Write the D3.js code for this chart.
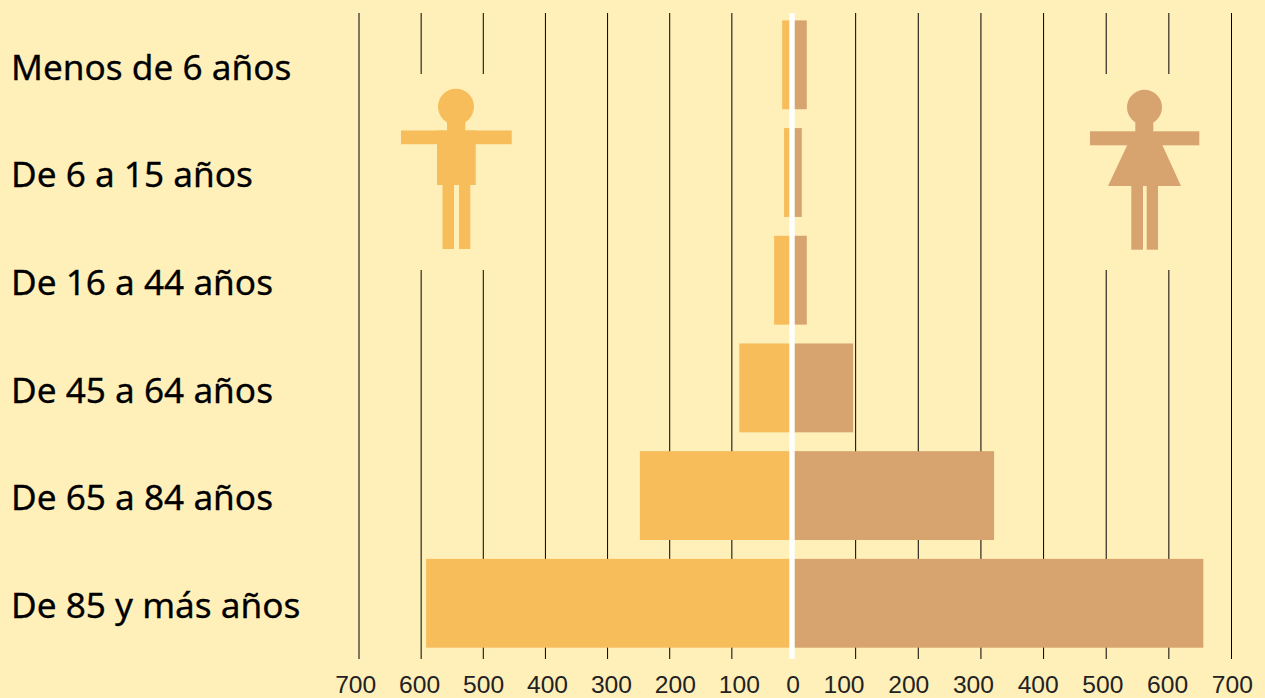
<!DOCTYPE html>
<html>
<head>
<meta charset="utf-8">
<script src="https://cdn.jsdelivr.net/npm/d3@7"></script>
<style>
  html, body { margin: 0; padding: 0; background: #ffefb9; overflow: hidden; }
  text { font-family: "Noto Sans", sans-serif; }
  .tick text, .zero { font-family: "Liberation Sans", sans-serif; }
</style>
</head>
<body>
<div id="chart"></div>
<script>
const ageGroups = ["Menos de 6 años", "De 6 a 15 años", "De 16 a 44 años", "De 45 a 64 años", "De 65 a 84 años", "De 85 y más años"];
const menValues = [19, 16, 32, 88, 248, 592];
const womenValues = [22, 14, 22, 96, 321, 655];
const tickValues = [0, 100, 200, 300, 400, 500, 600, 700];

const width = 1265, height = 698;
const bg = "#ffefb9", menColor = "#f6bd5a", womenColor = "#d7a36e";

const svg = d3.select("#chart").append("svg")
  .attr("width", width)
  .attr("height", height);

const xMen = d3.scaleLinear().domain([0, 700]).range([794, 359]);
const xWomen = d3.scaleLinear().domain([0, 700]).range([793, 1231.5]);
const y = d3.scaleBand().domain(ageGroups).range([20.4, 647.7]).paddingInner(0.175);

// tick labels do not sit quite under their lines in the original
const labelMen = d3.scaleLinear().domain([100, 700]).range([739.3, 355.7]);
const labelWomen = d3.scaleLinear().domain([100, 700]).range([844, 1232.3]);

// grid lines, the axes' own ticks run up the whole plot
[[xMen, labelMen], [xWomen, labelWomen]].forEach(([x, label]) => {
  const g = svg.append("g")
    .attr("transform", "translate(0,659)")
    .call(d3.axisBottom(x).tickValues(tickValues.slice(1)).tickSize(-646).offset(0).tickFormat(d => d));
  g.select(".domain").remove();
  g.selectAll("line").attr("stroke", "#000").attr("stroke-width", 1);
  g.selectAll("text")
    .attr("fill", "#222")
    .attr("font-size", 24.6)
    .attr("x", d => label(d) - x(d))
    .attr("y", 33.5)
    .attr("dy", 0);
});

// lines stop around the figures
svg.append("rect").attr("x", 400).attr("y", 74).attr("width", 115).attr("height", 196).attr("fill", bg);
svg.append("rect").attr("x", 1090).attr("y", 74).attr("width", 110).attr("height", 196).attr("fill", bg);

// bars
svg.append("g").selectAll("rect")
  .data(ageGroups)
  .join("rect")
  .attr("x", (d, i) => xMen(menValues[i]))
  .attr("y", d => y(d))
  .attr("width", (d, i) => xMen(0) - xMen(menValues[i]))
  .attr("height", y.bandwidth())
  .attr("fill", menColor);

svg.append("g").selectAll("rect")
  .data(ageGroups)
  .join("rect")
  .attr("x", xWomen(0))
  .attr("y", d => y(d))
  .attr("width", (d, i) => xWomen(womenValues[i]) - xWomen(0))
  .attr("height", y.bandwidth())
  .attr("fill", womenColor);

// white centre line
svg.append("rect").attr("x", 789.3).attr("y", 13).attr("width", 5.4).attr("height", 646).attr("fill", "#fff");

svg.append("text")
  .attr("class", "zero")
  .attr("x", 793).attr("y", 692.5)
  .attr("text-anchor", "middle").attr("fill", "#222").attr("font-size", 24.6)
  .text(tickValues[0]);

// row labels
svg.append("g").selectAll("text")
  .data(ageGroups)
  .join("text")
  .attr("x", 11)
  .attr("y", d => y(d) + y.bandwidth() / 2)
  .attr("dy", "0.42em")
  .attr("font-size", 35.2)
  .attr("fill", "#000")
  .attr("stroke", "#000")
  .attr("stroke-width", 0.3)
  .text(d => d);

// man
const man = svg.append("g").attr("fill", menColor);
man.append("circle").attr("cx", 456).attr("cy", 106.7).attr("r", 18);
man.append("rect").attr("x", 447).attr("y", 120).attr("width", 18.3).attr("height", 15);
man.append("rect").attr("x", 401).attr("y", 130.5).attr("width", 110.7).attr("height", 13.7);
man.append("rect").attr("x", 437).attr("y", 130.5).attr("width", 38.7).attr("height", 54.5);
man.append("rect").attr("x", 442.5).attr("y", 185).attr("width", 11.5).attr("height", 64);
man.append("rect").attr("x", 459).attr("y", 185).attr("width", 11.3).attr("height", 64);

// woman
const woman = svg.append("g").attr("fill", womenColor);
woman.append("circle").attr("cx", 1144.5).attr("cy", 107.3).attr("r", 17.5);
woman.append("rect").attr("x", 1135.3).attr("y", 120).attr("width", 18).attr("height", 15);
woman.append("rect").attr("x", 1090).attr("y", 131.3).attr("width", 109.3).attr("height", 14);
woman.append("path").attr("d", "M1127.3,145L1162.3,145L1181,186L1108,186Z");
woman.append("rect").attr("x", 1131.3).attr("y", 186).attr("width", 11.7).attr("height", 63.7);
woman.append("rect").attr("x", 1146.7).attr("y", 186).attr("width", 11.3).attr("height", 63.7);
</script>
</body>
</html>
